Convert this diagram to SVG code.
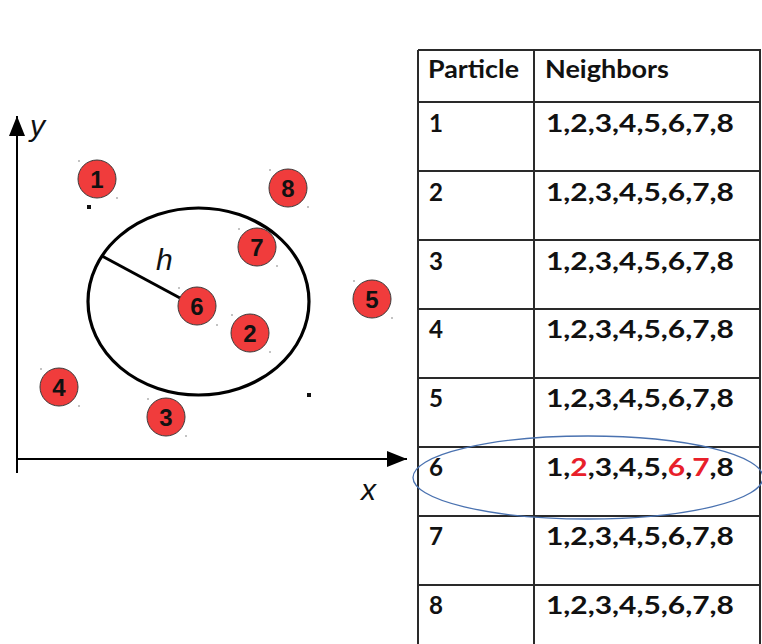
<svg xmlns="http://www.w3.org/2000/svg" width="762" height="644" viewBox="0 0 762 644">
<style>
.p{fill:#f03c3c;stroke:#3a3a3a;stroke-width:1}
.pt{font-family:"Liberation Sans",Arial,sans-serif;font-weight:bold;font-size:24px;fill:#111;text-anchor:middle}
.ax{stroke:#000;stroke-width:2;fill:none}
.it{font-family:"Liberation Sans",Arial,sans-serif;font-style:italic;font-size:30px;fill:#111}
.tb{stroke:#2a2a2a;stroke-width:2;fill:none}
.tt{font-family:Lato,"Open Sans",sans-serif;font-weight:bold;font-size:24px;fill:#111}
.dot{fill:#777}
.sq{fill:#111}
.r{fill:#e8202a}
</style>
<defs>
<marker id="ah" viewBox="0 0 20 16" refX="20" refY="8" markerWidth="20" markerHeight="16" markerUnits="userSpaceOnUse" orient="auto">
<path d="M0,0 L20,8 L0,16 Z" fill="#000"/>
</marker>
</defs>
<rect width="762" height="644" fill="#fff"/>
<g id="axes" class="connectors">
<line class="ax" x1="17" y1="473" x2="17" y2="116" marker-end="url(#ah)"/>
<line class="ax" x1="17" y1="459" x2="407" y2="459" marker-end="url(#ah)"/>
<text class="it" x="30" y="136">y</text>
<text class="it" x="361" y="500">x</text>
</g>
<g id="radius">
<ellipse cx="198.5" cy="301.5" rx="110.5" ry="93.5" fill="none" stroke="#000" stroke-width="3.2"/>
<line x1="102" y1="256" x2="180" y2="298" stroke="#000" stroke-width="3"/>
<text class="it" x="156" y="270">h</text>
</g>
<g id="marks">
<rect class="sq" x="87" y="205" width="4" height="4"/>
<rect class="sq" x="307" y="393" width="4" height="4"/>
</g>
<g id="p1"><circle class="p" cx="97" cy="179" r="19"/><text class="pt" x="97" y="187.5">1</text><circle class="dot" cx="79" cy="161" r="0.8"/><circle class="dot" cx="117" cy="198" r="0.8"/></g>
<g id="p2"><circle class="p" cx="250" cy="333" r="19"/><text class="pt" x="250" y="341.5">2</text><circle class="dot" cx="232" cy="315" r="0.8"/><circle class="dot" cx="270" cy="352" r="0.8"/></g>
<g id="p3"><circle class="p" cx="166" cy="417" r="19"/><text class="pt" x="166" y="425.5">3</text><circle class="dot" cx="148" cy="399" r="0.8"/><circle class="dot" cx="186" cy="436" r="0.8"/></g>
<g id="p4"><circle class="p" cx="59" cy="387" r="19"/><text class="pt" x="59" y="395.5">4</text><circle class="dot" cx="41" cy="369" r="0.8"/><circle class="dot" cx="79" cy="406" r="0.8"/></g>
<g id="p5"><circle class="p" cx="372" cy="299" r="19"/><text class="pt" x="372" y="307.5">5</text><circle class="dot" cx="354" cy="281" r="0.8"/><circle class="dot" cx="392" cy="318" r="0.8"/></g>
<g id="p6"><circle class="p" cx="197" cy="306" r="19"/><text class="pt" x="197" y="314.5">6</text><circle class="dot" cx="179" cy="288" r="0.8"/><circle class="dot" cx="217" cy="325" r="0.8"/></g>
<g id="p7"><circle class="p" cx="257" cy="247" r="19"/><text class="pt" x="257" y="255.5">7</text><circle class="dot" cx="239" cy="229" r="0.8"/><circle class="dot" cx="277" cy="266" r="0.8"/></g>
<g id="p8"><circle class="p" cx="288" cy="188" r="19"/><text class="pt" x="288" y="196.5">8</text><circle class="dot" cx="270" cy="170" r="0.8"/><circle class="dot" cx="308" cy="207" r="0.8"/></g>
<g id="table">
<path class="tb" d="M418,50 H760 V650 M418,50 V650 M534,50 V650 M418,102 H760 M418,171 H760 M418,240 H760 M418,309 H760 M418,378 H760 M418,447 H760 M418,516 H760 M418,585 H760"/>
<text class="tt" x="428" y="78" textLength="91" lengthAdjust="spacingAndGlyphs">Particle</text>
<text class="tt" x="545" y="78" textLength="124" lengthAdjust="spacingAndGlyphs">Neighbors</text>
<g id="rows">
<text class="tt" x="429" y="132" textLength="14" lengthAdjust="spacingAndGlyphs">1</text><text class="tt" x="546" y="132" textLength="188" lengthAdjust="spacingAndGlyphs">1,2,3,4,5,6,7,8</text>
<text class="tt" x="429" y="201" textLength="14" lengthAdjust="spacingAndGlyphs">2</text><text class="tt" x="546" y="201" textLength="188" lengthAdjust="spacingAndGlyphs">1,2,3,4,5,6,7,8</text>
<text class="tt" x="429" y="270" textLength="14" lengthAdjust="spacingAndGlyphs">3</text><text class="tt" x="546" y="270" textLength="188" lengthAdjust="spacingAndGlyphs">1,2,3,4,5,6,7,8</text>
<text class="tt" x="429" y="338" textLength="14" lengthAdjust="spacingAndGlyphs">4</text><text class="tt" x="546" y="338" textLength="188" lengthAdjust="spacingAndGlyphs">1,2,3,4,5,6,7,8</text>
<text class="tt" x="429" y="407" textLength="14" lengthAdjust="spacingAndGlyphs">5</text><text class="tt" x="546" y="407" textLength="188" lengthAdjust="spacingAndGlyphs">1,2,3,4,5,6,7,8</text>
<text class="tt" x="429" y="476" textLength="14" lengthAdjust="spacingAndGlyphs">6</text><text class="tt" x="546" y="476" textLength="188" lengthAdjust="spacingAndGlyphs">1,<tspan class="r">2</tspan>,3,4,5,<tspan class="r">6</tspan>,<tspan class="r">7</tspan>,8</text>
<text class="tt" x="429" y="545" textLength="14" lengthAdjust="spacingAndGlyphs">7</text><text class="tt" x="546" y="545" textLength="188" lengthAdjust="spacingAndGlyphs">1,2,3,4,5,6,7,8</text>
<text class="tt" x="429" y="614" textLength="14" lengthAdjust="spacingAndGlyphs">8</text><text class="tt" x="546" y="614" textLength="188" lengthAdjust="spacingAndGlyphs">1,2,3,4,5,6,7,8</text>
</g>
</g>
<g id="highlight">
<ellipse cx="588" cy="477.5" rx="175" ry="41.5" fill="none" stroke="#4a72b0" stroke-width="1.3"/>
</g>
</svg>
